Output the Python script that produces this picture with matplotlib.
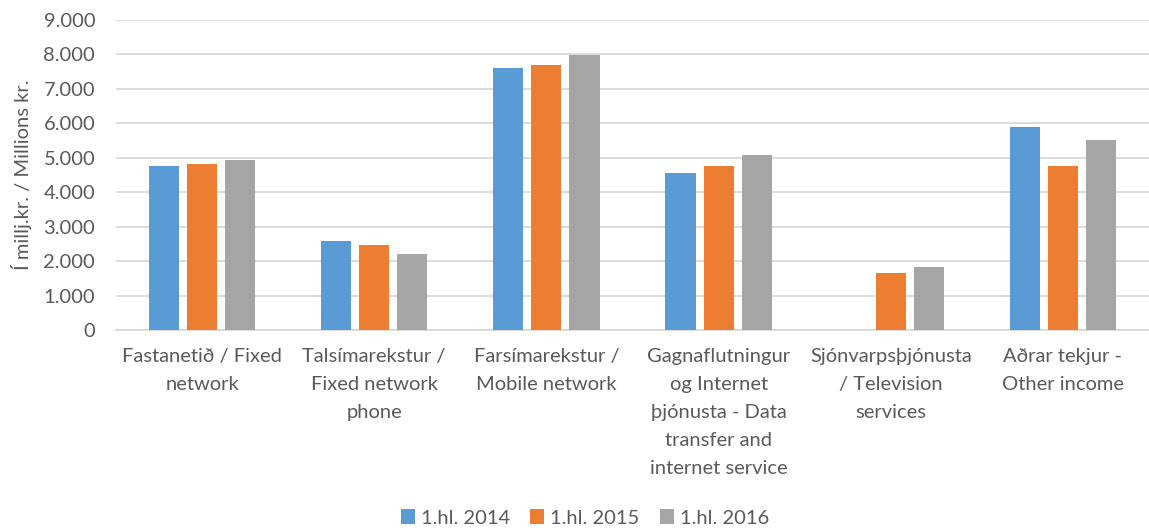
import numpy as np
import matplotlib.pyplot as plt
from matplotlib.ticker import FuncFormatter

plt.rcParams['font.family'] = ['Lato', 'DejaVu Sans']

categories = ['Fastanetið / Fixed\nnetwork',
              'Talsímarekstur /\nFixed network\nphone',
              'Farsímarekstur /\nMobile network',
              'Gagnaflutningur\nog Internet\nþjónusta - Data\ntransfer and\ninternet service',
              'Sjónvarpsþjónusta\n/ Television\nservices',
              'Aðrar tekjur -\nOther income']
series_names = ['1.hl. 2014', '1.hl. 2015', '1.hl. 2016']
v2014 = [4770, 2590, 7600, 4550, 0, 5900]
v2015 = [4820, 2480, 7700, 4770, 1660, 4770]
v2016 = [4930, 2200, 7990, 5090, 1820, 5530]
colors = ['#5b9bd5', '#ed7d31', '#a5a5a5']

W, H = 1149, 528
fig = plt.figure(figsize=(W / 100, H / 100), dpi=100)
ax = fig.add_axes([116 / W, (H - 330) / H, (W - 116) / W, 310 / H])

x = np.arange(len(categories))
step = 0.221
for k, vals in enumerate([v2014, v2015, v2016]):
    ax.bar(x + (k - 1) * step, vals, width=0.175, color=colors[k],
           label=series_names[k], zorder=3)

ax.set_xlim(-0.5, len(categories) - 0.5)
ax.set_ylim(0, 9000)
ax.set_yticks(np.arange(0, 9001, 1000))
ax.yaxis.set_major_formatter(FuncFormatter(lambda v, p: f'{int(v):,}'.replace(',', '.')))
ax.grid(axis='y', color='#d9d9d9', linewidth=1.3, zorder=0)
for s in ['top', 'right', 'left']:
    ax.spines[s].set_visible(False)
ax.spines['bottom'].set_color('#d9d9d9')
ax.spines['bottom'].set_linewidth(1.3)
ax.tick_params(axis='both', length=0, labelsize=14.5, colors='#595959')
ax.tick_params(axis='y', pad=15)
ax.tick_params(axis='x', pad=13)
ax.set_xticks(x)
ax.set_xticklabels(categories, linespacing=1.78)
ax.set_ylabel('Í millj.kr. / Millions kr.', fontsize=14.5, color='#595959', labelpad=8)

ax.legend(loc='center', bbox_to_anchor=(585 / W, (H - 518) / H), bbox_transform=fig.transFigure,
          ncol=3, frameon=False, fontsize=14.5, labelcolor='#595959',
          handlelength=0.7, handleheight=0.7, handletextpad=0.3, columnspacing=1.0)

fig.savefig('out.png', dpi=100)
